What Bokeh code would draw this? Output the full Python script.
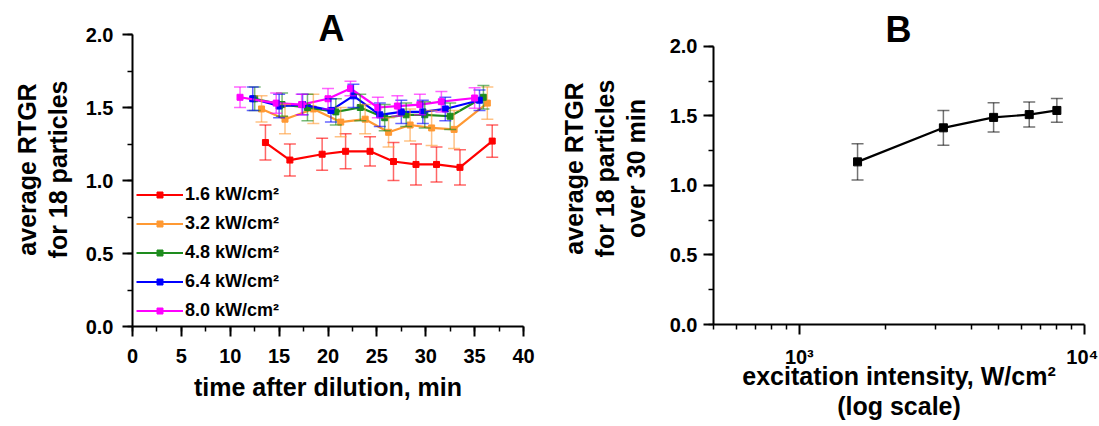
from bokeh.plotting import figure
from bokeh.models import (ColumnDataSource, Whisker, TeeHead, Legend, LegendItem,
                          SingleIntervalTicker, FixedTicker, PrintfTickFormatter,
                          Label, Range1d)
from bokeh.layouts import row
from bokeh.embed import file_html
from bokeh.resources import INLINE

FONT = "Liberation Sans"

# ---------------- data: panel A ----------------
series_names = ["1.6 kW/cm²", "3.2 kW/cm²", "4.8 kW/cm²", "6.4 kW/cm²", "8.0 kW/cm²"]
series_colors = ["#ff0000", "#ff9933", "#1e8c1e", "#0000ff", "#ff00ff"]

red_t = [13.6, 16.1, 19.4, 21.8, 24.3, 26.7, 29.0, 31.1, 33.5, 36.8]
red_v = [1.26, 1.14, 1.18, 1.20, 1.20, 1.13, 1.11, 1.11, 1.09, 1.27]
red_e = [0.12, 0.11, 0.11, 0.12, 0.10, 0.13, 0.14, 0.12, 0.12, 0.11]

orange_t = [13.2, 15.6, 18.5, 21.3, 23.8, 26.2, 28.4, 30.6, 32.9, 36.3]
orange_v = [1.49, 1.42, 1.49, 1.40, 1.42, 1.33, 1.38, 1.36, 1.35, 1.53]
orange_e = [0.09, 0.10, 0.10, 0.10, 0.10, 0.10, 0.11, 0.12, 0.13, 0.11]

green_t = [12.5, 15.3, 17.9, 20.8, 23.3, 25.8, 28.0, 29.9, 32.5, 35.9]
green_v = [1.56, 1.52, 1.50, 1.47, 1.50, 1.43, 1.45, 1.45, 1.44, 1.57]
green_e = [0.08, 0.08, 0.09, 0.09, 0.09, 0.09, 0.08, 0.09, 0.09, 0.08]

blue_t = [12.3, 15.0, 17.4, 20.3, 22.6, 25.3, 27.5, 29.7, 32.0, 35.5]
blue_v = [1.56, 1.51, 1.52, 1.48, 1.58, 1.45, 1.47, 1.47, 1.49, 1.55]
blue_e = [0.08, 0.08, 0.07, 0.08, 0.08, 0.08, 0.08, 0.08, 0.08, 0.07]

magenta_t = [11.0, 14.7, 17.3, 20.0, 22.3, 25.1, 27.1, 29.4, 31.6, 35.0]
magenta_v = [1.57, 1.53, 1.52, 1.56, 1.63, 1.50, 1.51, 1.52, 1.54, 1.565]
magenta_e = [0.07, 0.07, 0.07, 0.07, 0.05, 0.07, 0.07, 0.07, 0.07, 0.07]

# ---------------- data: panel B ----------------
intensity = [1600, 3200, 4800, 6400, 8000]
b_v = [1.17, 1.415, 1.49, 1.51, 1.54]
b_e = [0.13, 0.125, 0.105, 0.09, 0.085]

xb_ticks = [1000, 10000]
xb_labels = ["10³", "10⁴"]
xb_minor = [500, 600, 700, 800, 900, 2000, 3000, 4000, 5000, 6000, 7000, 8000, 9000]


def style_axes(p):
    p.outline_line_color = None
    p.grid.visible = False
    p.background_fill_color = "white"
    p.border_fill_color = "white"
    for ax in (p.xaxis, p.yaxis):
        ax.axis_line_width = 2
        ax.major_tick_line_width = 2
        ax.minor_tick_line_width = 1.5
        ax.major_tick_out = 10
        ax.major_tick_in = 0
        ax.minor_tick_out = 5
        ax.minor_tick_in = 0
        ax.major_label_text_font = FONT
        ax.major_label_text_font_size = "20px"
        ax.major_label_text_font_style = "bold"
        ax.major_label_text_color = "black"
        ax.axis_label_text_font = FONT
        ax.axis_label_text_font_size = "25px"
        ax.axis_label_text_font_style = "bold"
        ax.axis_label_text_color = "black"
        ax.axis_label_text_line_height = 1.1


# ---------------- panel A ----------------
pA = figure(frame_width=391, frame_height=314, output_backend="svg", toolbar_location=None,
            x_range=Range1d(0, 40), y_range=Range1d(0, 2.1507),
            min_border_left=132, min_border_right=30, min_border_top=12, min_border_bottom=98)
style_axes(pA)
pA.xaxis.ticker = SingleIntervalTicker(interval=5, num_minor_ticks=2)
pA.yaxis.ticker = SingleIntervalTicker(interval=0.5, num_minor_ticks=2)
pA.yaxis.bounds = (0, 2)
pA.yaxis.formatter = PrintfTickFormatter(format="%.1f")
pA.xaxis.axis_label = "time after dilution, min"
pA.yaxis.axis_label = "average RTGR\nfor 18 particles"
pA.xaxis.major_label_standoff = 12
pA.yaxis.major_label_standoff = 9
pA.xaxis.axis_label_standoff = 7
pA.yaxis.axis_label_standoff = 11

all_series = [
    (red_t, red_v, red_e),
    (orange_t, orange_v, orange_e),
    (green_t, green_v, green_e),
    (blue_t, blue_v, blue_e),
    (magenta_t, magenta_v, magenta_e),
]

items = []
for (t, v, e), name, col in zip(all_series, series_names, series_colors):
    src = ColumnDataSource(dict(t=t, v=v,
                                lo=[a - b for a, b in zip(v, e)],
                                hi=[a + b for a, b in zip(v, e)]))
    w = Whisker(base="t", lower="lo", upper="hi", source=src, dimension="height",
                line_color=col, line_alpha=0.6, line_width=1.5, level="glyph",
                upper_head=TeeHead(size=12, line_color=col, line_alpha=0.6, line_width=1.5),
                lower_head=TeeHead(size=12, line_color=col, line_alpha=0.6, line_width=1.5))
    pA.add_layout(w)
    ln = pA.line("t", "v", source=src, line_color=col, line_width=2.2)
    mk = pA.scatter("t", "v", source=src, marker="square", size=6,
                    fill_color=col, line_color=col)
    items.append(LegendItem(label=name, renderers=[ln, mk]))

legend = Legend(items=items, location=(4, 1), padding=0, margin=0, spacing=0,
                glyph_width=47, glyph_height=15, label_height=29, label_standoff=2,
                label_text_font=FONT, label_text_font_size="18px",
                label_text_font_style="bold", label_text_color="black",
                background_fill_alpha=0, border_line_alpha=0)
pA.add_layout(legend)

pA.add_layout(Label(x=20.35, y=2.04, text="A", text_font=FONT, text_font_size="36px",
                    text_color="black", text_font_style="bold",
                    text_align="center", text_baseline="alphabetic"))

# ---------------- panel B ----------------
pB = figure(frame_width=371, frame_height=312, output_backend="svg", toolbar_location=None,
            x_axis_type="log", x_range=Range1d(500, 10000), y_range=Range1d(0, 2.2446),
            min_border_left=160, min_border_right=14, min_border_top=12, min_border_bottom=100)
style_axes(pB)
pB.xaxis.ticker = FixedTicker(ticks=xb_ticks, minor_ticks=xb_minor)
pB.xaxis.major_label_overrides = {k: lab for k, lab in zip(xb_ticks, xb_labels)}
pB.yaxis.ticker = SingleIntervalTicker(interval=0.5, num_minor_ticks=2)
pB.yaxis.bounds = (0, 2)
pB.yaxis.formatter = PrintfTickFormatter(format="%.1f")
pB.xaxis.axis_label = "excitation intensity, W/cm²\n(log scale)"
pB.yaxis.axis_label = "average RTGR\nfor 18 particles\nover 30 min"
pB.xaxis.major_label_standoff = 11
pB.yaxis.major_label_standoff = 6
pB.xaxis.axis_label_standoff = -9
pB.yaxis.axis_label_standoff = 17

srcB = ColumnDataSource(dict(x=intensity, v=b_v,
                             lo=[a - b for a, b in zip(b_v, b_e)],
                             hi=[a + b for a, b in zip(b_v, b_e)]))
wB = Whisker(base="x", lower="lo", upper="hi", source=srcB, dimension="height",
             line_color="black", line_alpha=0.55, line_width=1.5, level="glyph",
             upper_head=TeeHead(size=12, line_color="black", line_alpha=0.55, line_width=1.5),
             lower_head=TeeHead(size=12, line_color="black", line_alpha=0.55, line_width=1.5))
pB.add_layout(wB)
pB.line("x", "v", source=srcB, line_color="black", line_width=2.2)
pB.scatter("x", "v", source=srcB, marker="square", size=8, fill_color="black", line_color="black")

pB.add_layout(Label(x=2225, y=2.123, text="B", text_font=FONT, text_font_size="36px",
                    text_color="black", text_font_style="bold",
                    text_align="center", text_baseline="alphabetic"))

layout = row(pA, pB)
open("out.html", "w").write(file_html(layout, INLINE))
